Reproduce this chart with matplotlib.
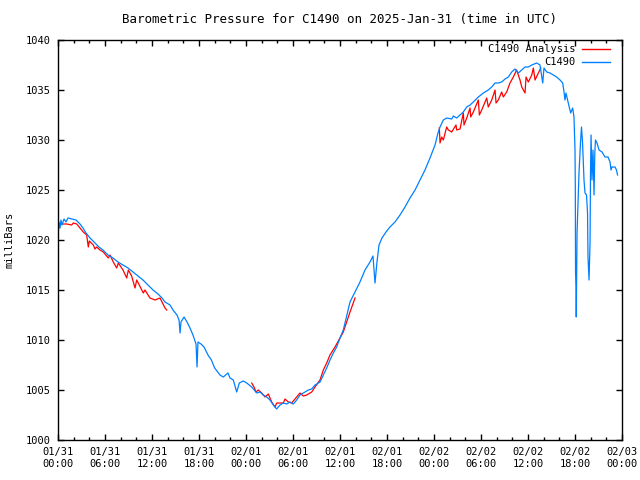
import matplotlib
matplotlib.use("Agg")
import matplotlib.pyplot as plt
import numpy as np

# hours since 2025-01-31 00:00 UTC, pressure in mb
station_hours = [
    0.00, 0.13, 0.26, 0.38, 0.51, 0.77, 1.02, 1.28, 1.79, 2.30, 2.81, 3.19,
    3.57, 4.09, 4.72, 5.23, 5.74, 6.38, 7.02, 7.66, 8.30, 8.94, 9.57, 10.21,
    10.85, 11.49, 12.13, 12.77, 13.28, 13.66, 14.30, 14.68, 15.19, 15.45,
    15.58, 15.70, 16.09, 16.47, 16.85, 17.23, 17.62, 17.75, 17.87, 18.26,
    18.64, 19.15, 19.58, 20.00, 20.68, 21.10, 21.70, 21.96, 22.38, 22.81,
    23.15, 23.66, 24.09, 24.73, 25.37, 25.79, 26.21, 26.64, 27.06, 27.49,
    27.91, 28.34, 28.77, 29.19, 29.62, 30.04, 30.47, 30.89, 31.53, 31.96,
    32.38, 32.81, 33.45, 33.87, 34.30, 34.72, 35.15, 35.57, 36.00, 36.42,
    37.28, 37.92, 38.55, 39.19, 39.83, 40.21, 40.47, 40.72, 40.98, 41.36,
    41.87, 42.38, 43.02, 43.66, 44.30, 44.94, 45.58, 46.21, 46.85, 47.49,
    48.13, 48.51, 48.77, 49.19, 49.62, 50.26, 50.47, 50.90, 51.32, 51.74,
    52.18, 52.60, 53.02, 53.66, 54.30, 54.93, 55.37, 55.79, 56.21, 56.64,
    57.07, 57.49, 57.92, 58.34, 58.77, 59.20, 59.62, 60.04, 60.48, 61.11,
    61.53, 61.88, 62.04, 62.39, 62.81, 63.23, 63.66, 64.09, 64.43, 64.60,
    64.72, 64.85, 65.14, 65.45, 65.70, 65.87, 66.00, 66.04, 66.07, 66.13,
    66.16, 66.26, 66.38, 66.51, 66.70, 66.83, 66.96, 67.15, 67.28, 67.47,
    67.60, 67.66, 67.79, 67.92, 67.98, 68.05, 68.17, 68.30, 68.43, 68.53,
    68.61, 68.81, 69.07, 69.45, 69.83, 70.21, 70.47, 70.60, 70.72, 71.11,
    71.30, 71.43,
]
station_mb = [
    1020.2, 1021.8, 1021.2, 1022.0, 1021.5, 1022.1, 1021.8, 1022.2, 1022.1,
    1022.0, 1021.6, 1021.2, 1020.7, 1020.2, 1019.7, 1019.3, 1019.0, 1018.5,
    1018.2, 1017.8, 1017.5, 1017.2, 1016.8, 1016.4, 1016.0, 1015.5, 1015.0,
    1014.6, 1014.2, 1013.8, 1013.5, 1013.0, 1012.5, 1012.0, 1010.7, 1011.8,
    1012.3, 1011.8, 1011.2, 1010.5, 1009.6, 1007.3, 1009.8, 1009.6, 1009.3,
    1008.5, 1008.0, 1007.2, 1006.5, 1006.3, 1006.7, 1006.2, 1006.0, 1004.8,
    1005.7, 1005.9, 1005.7, 1005.3, 1004.7, 1004.8, 1004.5, 1004.3, 1004.0,
    1003.5, 1003.1, 1003.5, 1003.7, 1003.6, 1003.8, 1003.6, 1004.0, 1004.5,
    1004.8, 1005.0, 1005.1, 1005.5, 1005.8, 1006.5, 1007.2, 1008.0, 1008.7,
    1009.3, 1010.2, 1011.0, 1013.8, 1014.8, 1015.8, 1017.0, 1017.8, 1018.4,
    1015.7, 1017.8, 1019.5, 1020.2, 1020.8, 1021.3, 1021.8, 1022.5, 1023.3,
    1024.2, 1025.0, 1026.0, 1027.0, 1028.2, 1029.5, 1030.7, 1031.3, 1032.0,
    1032.2, 1032.1, 1032.4, 1032.2, 1032.5, 1032.8, 1033.3, 1033.5, 1033.8,
    1034.3, 1034.7, 1035.0, 1035.3, 1035.7, 1035.7, 1035.8, 1036.1, 1036.3,
    1036.8, 1037.1, 1036.7, 1037.0, 1037.3, 1037.3, 1037.5, 1037.7, 1037.5,
    1035.7, 1037.2, 1036.8, 1036.7, 1036.5, 1036.3, 1036.0, 1035.7, 1034.8,
    1034.0, 1034.7, 1033.7, 1032.7, 1033.2, 1032.3, 1029.0, 1025.3, 1016.7,
    1015.3, 1012.3, 1020.7, 1023.7, 1026.7, 1029.7, 1031.3, 1029.8, 1026.0,
    1024.7, 1024.5, 1022.7, 1018.3, 1016.0, 1019.7, 1026.7, 1030.5, 1026.0,
    1029.0, 1024.5, 1028.7, 1030.0, 1029.7, 1029.0, 1028.8, 1028.3, 1028.3,
    1027.8, 1027.0, 1027.3, 1027.3, 1027.0, 1026.5,
]

# analysis series, nan marks the gaps between runs
analysis_hours = [
    0.47, 1.11, 1.75, 1.95, 2.39, 2.81, 3.23, 3.66, 3.87, 4.00, 4.51, 4.72,
    4.94, 5.36, 5.78, 6.42, 6.64, 7.06, 7.49, 7.70, 8.30, 8.77, 8.98, 9.40,
    9.83, 10.05, 10.89, 11.10, 11.74, 12.38, 13.02, 13.66, 13.88,
    np.nan,
    24.73, 25.02, 25.28, 25.57, 26.00, 26.43, 26.85, 27.28, 27.70, 27.92,
    28.76, 28.98, 29.40, 29.83, 30.89, 31.32, 31.75, 32.39, 32.81, 33.45,
    33.87, 34.30, 34.72, 35.36, 36.00, 36.42, 37.28, 37.92,
    np.nan,
    48.68, 48.77, 48.98, 49.19, 49.62, 49.83, 50.26, 50.81, 50.90, 51.32,
    51.74, 51.83, 52.18, 52.60, 52.69, 53.02, 53.66, 53.79, 54.09, 54.73,
    54.93, 55.37, 55.79, 55.92, 56.21, 56.64, 56.85, 57.28, 57.70, 58.13,
    58.55, 58.98, 59.20, 59.62, 59.75, 60.04, 60.48, 60.68, 60.90, 61.32,
    61.63,
]
analysis_mb = [
    1021.6, 1021.6, 1021.5, 1021.7, 1021.6, 1021.2, 1020.8, 1020.5, 1019.3,
    1019.9, 1019.5, 1019.1, 1019.3, 1019.0, 1018.8, 1018.2, 1018.5, 1017.8,
    1017.2, 1017.7, 1017.0, 1016.2, 1017.0, 1016.4, 1015.2, 1016.0, 1014.7,
    1015.0, 1014.2, 1014.0, 1014.2, 1013.2, 1013.0,
    np.nan,
    1005.7, 1005.3, 1004.8, 1005.0, 1004.7, 1004.3, 1004.6, 1003.8, 1003.3,
    1003.7, 1003.7, 1004.1, 1003.8, 1003.7, 1004.7, 1004.4, 1004.5, 1004.8,
    1005.3, 1006.0, 1007.0, 1007.7, 1008.5, 1009.3, 1010.2, 1010.8, 1012.8,
    1014.2,
    np.nan,
    1031.2, 1029.7, 1030.3, 1030.0, 1031.3, 1031.0, 1030.8, 1031.5, 1031.0,
    1031.1, 1032.7, 1031.5, 1032.2, 1033.2, 1032.3, 1032.8, 1034.0, 1032.5,
    1033.0, 1034.2, 1033.3, 1034.0, 1035.0, 1033.7, 1034.0, 1034.8, 1034.3,
    1034.8, 1035.7, 1036.3, 1037.0, 1036.0, 1035.3, 1034.7, 1036.3, 1035.8,
    1036.5, 1037.2, 1036.0, 1036.7, 1037.2,
]

tick_hours = [0, 6, 12, 18, 24, 30, 36, 42, 48, 54, 60, 66, 72]
tick_labels = ["01/31\n00:00", "01/31\n06:00", "01/31\n12:00", "01/31\n18:00",
               "02/01\n00:00", "02/01\n06:00", "02/01\n12:00", "02/01\n18:00",
               "02/02\n00:00", "02/02\n06:00", "02/02\n12:00", "02/02\n18:00",
               "02/03\n00:00"]
y_ticks = [1000, 1005, 1010, 1015, 1020, 1025, 1030, 1035, 1040]

RED = "#ff0000"
BLUE = "#0080ff"


def main():
    matplotlib.rcParams['font.family'] = 'DejaVu Sans Mono'
    matplotlib.rcParams['font.size'] = 7.5

    fig = plt.figure(figsize=(6.4, 4.8), dpi=100)
    ax = fig.add_axes([58 / 640, 40 / 480, 564 / 640, 400 / 480])

    ax.plot(analysis_hours, analysis_mb, color=RED, lw=0.9)
    ax.plot(station_hours, station_mb, color=BLUE, lw=0.9)

    ax.set_xlim(0, 72)
    ax.set_ylim(1000, 1040)
    ax.set_xticks(tick_hours)
    ax.set_xticklabels(tick_labels)
    ax.set_xticks(np.arange(0, 73, 2), minor=True)
    ax.set_yticks(y_ticks)

    ax.tick_params(which='both', direction='in', top=True, right=True,
                   width=1, color='black')
    ax.tick_params(which='major', length=4.5, pad=5)
    ax.tick_params(which='minor', length=2.5)
    for s in ax.spines.values():
        s.set_linewidth(1)

    ax.set_ylabel("milliBars", labelpad=8)
    ax.set_title("Barometric Pressure for C1490 on 2025-Jan-31 (time in UTC)",
                 pad=12)

    # gnuplot style key: right aligned text, sample line after it
    ax.text(0.917, 0.9775, "C1490 Analysis", transform=ax.transAxes,
            ha='right', va='center')
    ax.plot([0.929, 0.979], [0.9775, 0.9775], color=RED, lw=1,
            transform=ax.transAxes)
    ax.text(0.917, 0.945, "C1490", transform=ax.transAxes,
            ha='right', va='center')
    ax.plot([0.929, 0.979], [0.945, 0.945], color=BLUE, lw=1,
            transform=ax.transAxes)

    fig.savefig("out.png", dpi=100)
    plt.close(fig)


if __name__ == "__main__":
    main()
